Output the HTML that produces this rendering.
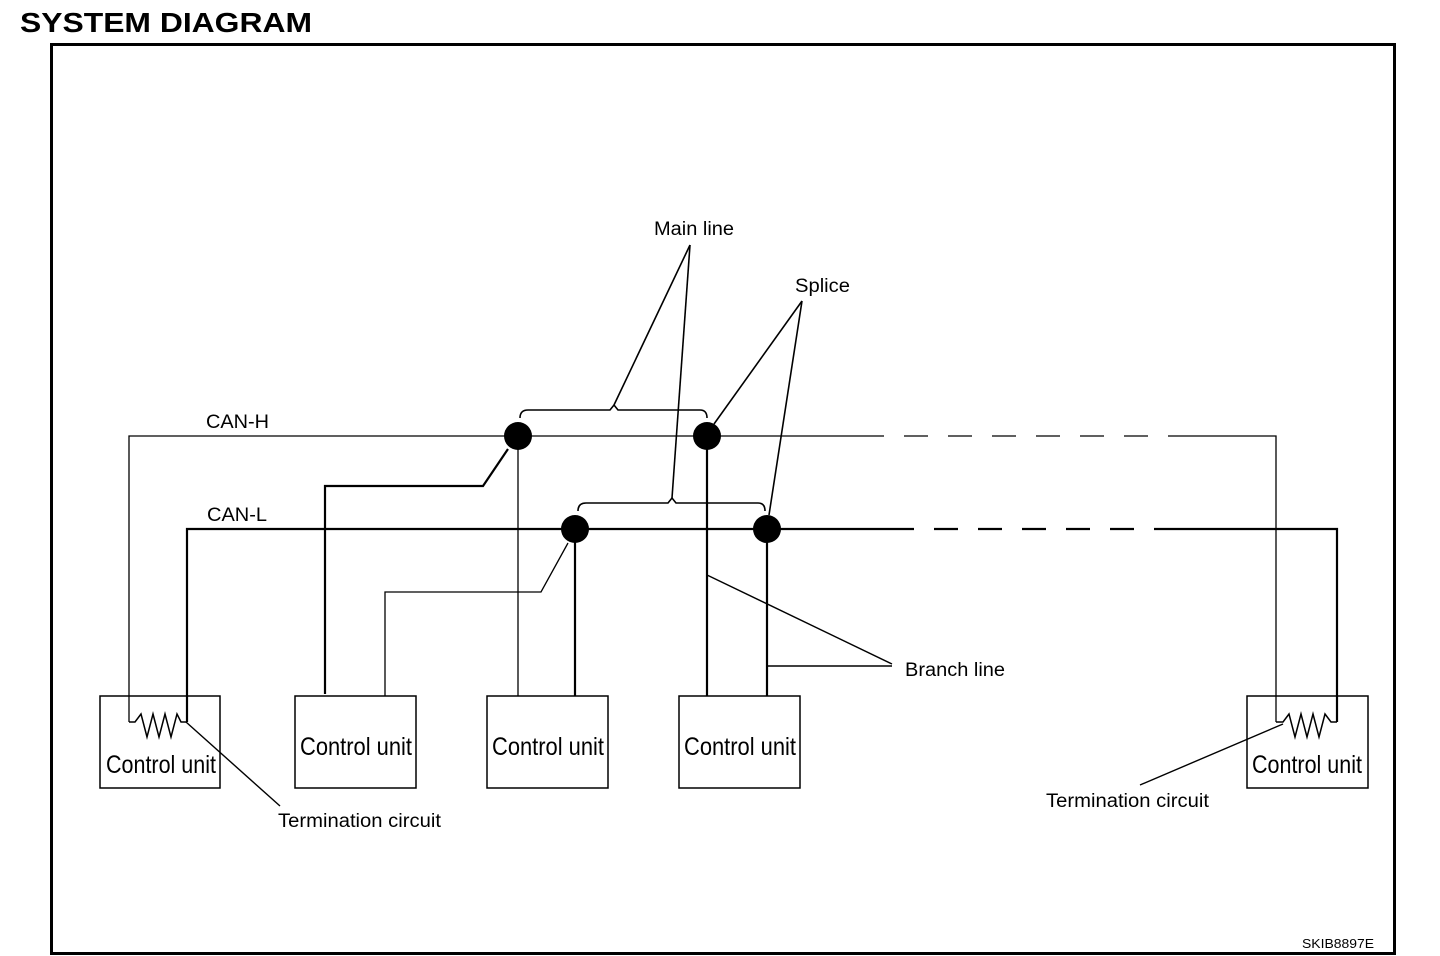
<!DOCTYPE html>
<html><head><meta charset="utf-8"><style>
html,body{margin:0;padding:0;background:#fff;width:1440px;height:956px;overflow:hidden}
svg{display:block}
text{font-family:"Liberation Sans",sans-serif;fill:#000}
</style></head><body>
<svg width="1440" height="956" viewBox="0 0 1440 956">
<text x="20" y="32" font-size="28" font-weight="bold" textLength="292" lengthAdjust="spacingAndGlyphs">SYSTEM DIAGRAM</text>
<rect x="51.5" y="44.5" width="1343" height="909" fill="none" stroke="#000" stroke-width="3"/>
<g stroke="#000" fill="none" stroke-width="1.3">
<polyline points="129,722 129,436 860,436"/>
<line x1="860" y1="436" x2="1170" y2="436" stroke-dasharray="24,20"/>
<polyline points="1170,436 1276,436 1276,722"/>
<line x1="518" y1="436" x2="518" y2="696"/>
<polyline points="385,696 385,592 541,592 568,543"/>
<path d="M520,418 Q520,410 528,410 L610,410 L614,405 L618,410 L700,410 Q707,410 707,418" stroke-width="1.6"/>
<path d="M578,511 Q578,503 586,503 L668,503 L672,498 L676,503 L758,503 Q765,503 765,511" stroke-width="1.6"/>
<line x1="614" y1="405" x2="690" y2="245" stroke-width="1.6"/>
<line x1="672" y1="498" x2="690" y2="245" stroke-width="1.6"/>
<line x1="714" y1="424" x2="802" y2="301" stroke-width="1.6"/>
<line x1="769" y1="515" x2="802" y2="301" stroke-width="1.6"/>
<line x1="707" y1="575" x2="892" y2="664" stroke-width="1.4"/>
<line x1="767" y1="666" x2="892" y2="666" stroke-width="1.4"/>
<line x1="186" y1="722" x2="280" y2="806" stroke-width="1.4"/>
<line x1="1283" y1="724" x2="1140" y2="785" stroke-width="1.4"/>
</g>
<g stroke="#000" fill="none" stroke-width="2.2">
<polyline points="187,722 187,529 890,529"/>
<line x1="890" y1="529" x2="1178" y2="529" stroke-dasharray="24,20"/>
<polyline points="1178,529 1337,529 1337,722"/>
<polyline points="325,694 325,486 483,486 508,449"/>
<line x1="575" y1="529" x2="575" y2="696"/>
<line x1="707" y1="436" x2="707" y2="696"/>
<line x1="767" y1="529" x2="767" y2="696"/>
</g>
<g stroke="#000" fill="none" stroke-width="1.5">
<rect x="100" y="696" width="120" height="92"/>
<rect x="295" y="696" width="121" height="92"/>
<rect x="487" y="696" width="121" height="92"/>
<rect x="679" y="696" width="121" height="92"/>
<rect x="1247" y="696" width="121" height="92"/>
<polyline points="129,722 135,722 141,714 147,737 153,714 159,737 165,714 171,737 177,714 181,722 187,722"/>
<polyline points="1276,722 1283,722 1289,714 1295,737 1301,714 1307,737 1313,714 1319,737 1325,714 1331,722 1337,722"/>
</g>
<g fill="#000">
<circle cx="518" cy="436" r="14"/>
<circle cx="707" cy="436" r="14"/>
<circle cx="575" cy="529" r="14"/>
<circle cx="767" cy="529" r="14"/>
</g>
<g font-size="25">
<text x="106" y="773" textLength="110" lengthAdjust="spacingAndGlyphs">Control unit</text>
<text x="300" y="755" textLength="112" lengthAdjust="spacingAndGlyphs">Control unit</text>
<text x="492" y="755" textLength="112" lengthAdjust="spacingAndGlyphs">Control unit</text>
<text x="684" y="755" textLength="112" lengthAdjust="spacingAndGlyphs">Control unit</text>
<text x="1252" y="773" textLength="110" lengthAdjust="spacingAndGlyphs">Control unit</text>
</g>
<g font-size="19">
<text x="206" y="428" textLength="63" lengthAdjust="spacingAndGlyphs">CAN-H</text>
<text x="207" y="521" textLength="60" lengthAdjust="spacingAndGlyphs">CAN-L</text>
<text x="654" y="235" textLength="80" lengthAdjust="spacingAndGlyphs">Main line</text>
<text x="795" y="292" textLength="55" lengthAdjust="spacingAndGlyphs">Splice</text>
<text x="905" y="676" textLength="100" lengthAdjust="spacingAndGlyphs">Branch line</text>
<text x="278" y="827" textLength="163" lengthAdjust="spacingAndGlyphs">Termination circuit</text>
<text x="1046" y="807" textLength="163" lengthAdjust="spacingAndGlyphs">Termination circuit</text>
</g>
<text x="1302" y="948" font-size="13" textLength="72" lengthAdjust="spacingAndGlyphs">SKIB8897E</text>
</svg>
</body></html>
